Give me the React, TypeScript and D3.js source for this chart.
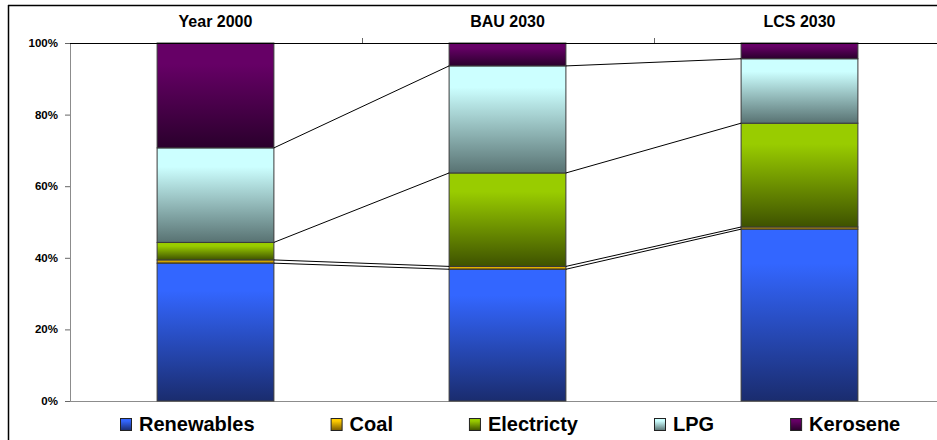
import React, { useMemo } from "react";
import * as d3 from "d3";

// Energy mix shares (%) by scenario
const categories = ["Year 2000", "BAU 2030", "LCS 2030"];
const seriesNames = ["Renewables", "Coal", "Electricty", "LPG", "Kerosene"];
const renewables = [38.5, 36.8, 48.0];
const coal = [0.9, 0.8, 0.6];
const electricity = [4.9, 26.1, 29.0];
const lpg = [26.4, 29.9, 18.0];
const kerosene = [29.3, 6.4, 4.4];
const yTicks = [0, 20, 40, 60, 80, 100];

// Gradient colours per series: [top, bottom]
const seriesColors: [string, string][] = [
  ["#3366FF", "#1A2C6E"],
  ["#FFCC00", "#7A5A00"],
  ["#99CC00", "#3E5200"],
  ["#CCFFFF", "#587272"],
  ["#660066", "#2A002C"],
];

const W = 937;
const H = 440;
const FONT = "Arial, 'Liberation Sans', sans-serif";

export default function App() {
  const values = [renewables, coal, electricity, lpg, kerosene];

  const x = d3
    .scaleBand<string>()
    .domain(categories)
    .range([69.5, 945.5])
    .paddingInner(0.6)
    .paddingOuter(0.3);
  const y = d3.scaleLinear().domain([0, 100]).range([401, 43]);
  const bw = x.bandwidth();

  // stacked layout: rows = categories, keys = series
  const rows = categories.map((c, i) => {
    const r: Record<string, number | string> = { cat: c };
    seriesNames.forEach((s, k) => (r[s] = values[k][i]));
    return r;
  });
  const stacked = d3.stack<Record<string, number | string>>().keys(seriesNames)(rows as any);

  const plotLeft = 70;
  const step = x.step();

  // legend layout from measured text widths
  const legendWidths = useMemo(() => {
    const ctx = document.createElement("canvas").getContext("2d");
    if (!ctx) return seriesNames.map(() => 100);
    ctx.font = `bold 20px ${FONT}`;
    return seriesNames.map((s) => ctx.measureText(s).width);
  }, []);
  const legendPos: number[] = [];
  let lx = 120;
  legendWidths.forEach((w) => {
    legendPos.push(lx);
    lx += 19 + w + 76;
  });

  return (
    <svg
      width={W}
      height={H}
      style={{ position: "absolute", left: 0, top: 0, background: "#fff" }}
      fontFamily={FONT}
    >
      <defs>
        {seriesColors.map(([top, bottom], k) => (
          <linearGradient key={k} id={`g${k}`} x1="0" y1="0" x2="0" y2="1">
            <stop offset="0" stopColor={top} />
            <stop offset="0.2" stopColor={top} />
            <stop offset="1" stopColor={bottom} />
          </linearGradient>
        ))}
      </defs>

      {/* outer frame */}
      <line x1={8.5} y1={5} x2={8.5} y2={H} stroke="#000" strokeWidth={1.5} />
      <line x1={8} y1={5.5} x2={W} y2={5.5} stroke="#000" strokeWidth={1.5} />

      {/* category labels on top */}
      {categories.map((c) => (
        <text
          key={c}
          x={x(c)! + bw / 2}
          y={27}
          textAnchor="middle"
          fontWeight="bold"
          fontSize={16}
        >
          {c}
        </text>
      ))}

      {/* bottom axis */}
      <line x1={plotLeft} y1={y(0) + 0.5} x2={W} y2={y(0) + 0.5} stroke="#8c8c8c" />
      {/* left axis */}
      <line x1={plotLeft + 0.5} y1={y(100)} x2={plotLeft + 0.5} y2={y(0)} stroke="#8c8c8c" />
      {yTicks.map((t) => (
        <g key={t}>
          <line x1={65} x2={plotLeft} y1={y(t) + 0.5} y2={y(t) + 0.5} stroke="#666" />
          <text
            x={58}
            y={y(t) + 4}
            textAnchor="end"
            fontWeight="bold"
            fontSize={11.5}
          >
            {t}%
          </text>
        </g>
      ))}

      {/* bars */}
      {stacked.map((layer, k) =>
        layer.map((d, i) => (
          <rect
            key={`${k}-${i}`}
            x={x(categories[i])!}
            y={y(d[1])}
            width={bw}
            height={y(d[0]) - y(d[1])}
            fill={`url(#g${k})`}
            stroke="#3a3a3a"
            strokeWidth={1}
          />
        ))
      )}

      {/* series lines between neighbouring bars */}
      {stacked.slice(0, seriesNames.length - 1).map((layer, k) =>
        categories.slice(0, -1).map((c, i) => (
          <line
            key={`sl-${k}-${i}`}
            x1={x(c)! + bw}
            y1={y(layer[i][1])}
            x2={x(categories[i + 1])!}
            y2={y(layer[i + 1][1])}
            stroke="#000"
            strokeWidth={1}
          />
        ))
      )}

      {/* top axis with category separators */}
      <line x1={plotLeft} y1={y(100) + 0.5} x2={W} y2={y(100) + 0.5} stroke="#000" />
      {categories.slice(1).map((c, i) => (
        <line
          key={`tt-${i}`}
          x1={plotLeft + step * (i + 1) + 0.5}
          x2={plotLeft + step * (i + 1) + 0.5}
          y1={y(100) - 5}
          y2={y(100)}
          stroke="#666"
        />
      ))}

      {/* legend */}
      {seriesNames.map((s, k) => (
        <g key={s}>
          <rect
            x={legendPos[k] + 0.5}
            y={418.5}
            width={11}
            height={12}
            fill={`url(#g${k})`}
            stroke="#222"
          />
          <text x={legendPos[k] + 19} y={431} fontWeight="bold" fontSize={20}>
            {s}
          </text>
        </g>
      ))}
    </svg>
  );
}
